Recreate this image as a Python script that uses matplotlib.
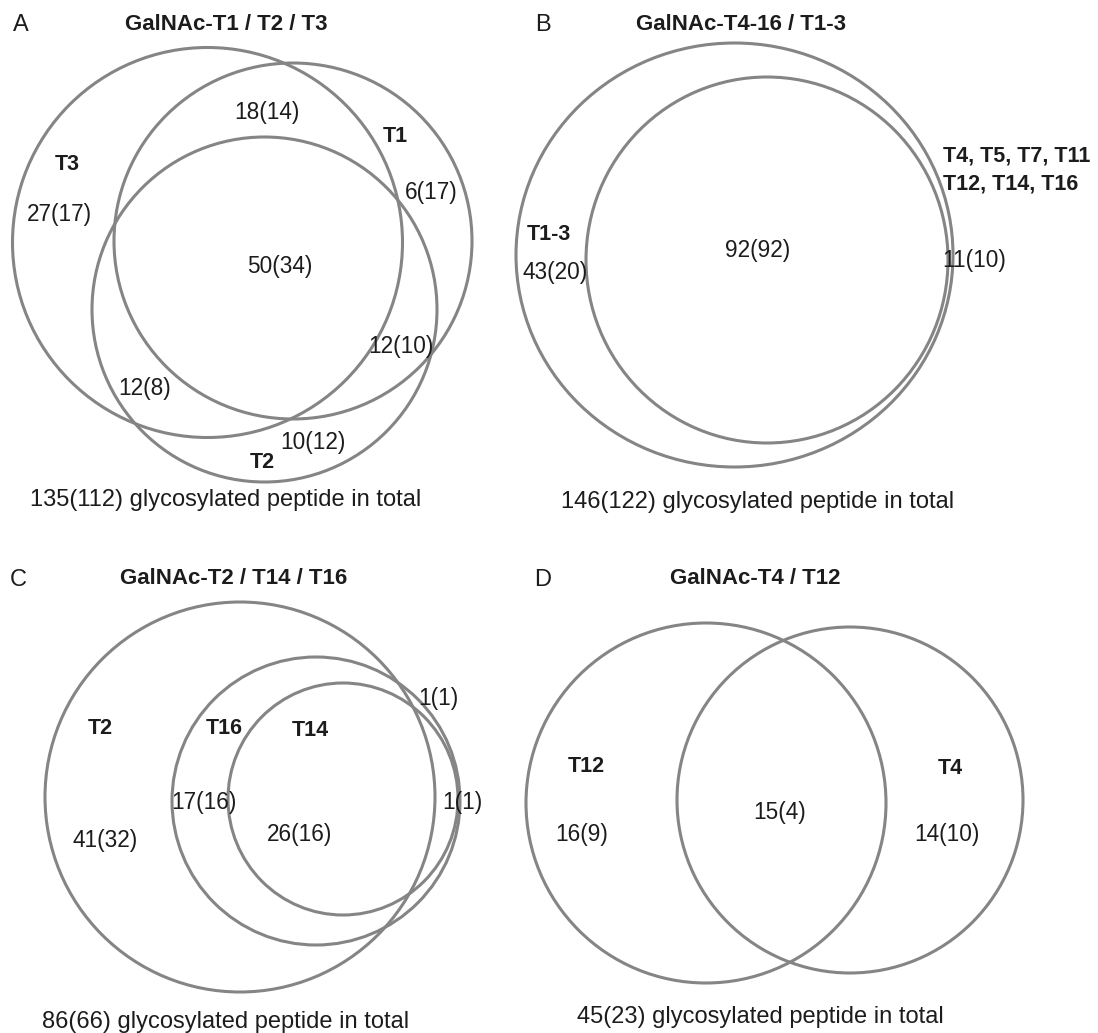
import matplotlib
matplotlib.use("Agg")
import matplotlib.pyplot as plt
from matplotlib.patches import Circle, Ellipse

plt.rcParams['font.family'] = ['Liberation Sans', 'DejaVu Sans']

# ---- data ----
panel_letters = ["A", "B", "C", "D"]
panel_titles = ["GalNAc-T1 / T2 / T3", "GalNAc-T4-16 / T1-3",
                "GalNAc-T2 / T14 / T16", "GalNAc-T4 / T12"]
totals = ["135(112)", "146(122)", "86(66)", "45(23)"]

# set names shown inside each diagram
set_names_A = ["T3", "T1", "T2"]
set_names_B = ["T1-3", "T4, T5, T7, T11\nT12, T14, T16"]
set_names_C = ["T2", "T16", "T14"]
set_names_D = ["T12", "T4"]

# region counts, "all (unique)"
counts_A = ["18(14)", "6(17)", "27(17)", "50(34)", "12(10)", "12(8)", "10(12)"]
counts_B = ["43(20)", "92(92)", "11(10)"]
counts_C = ["1(1)", "17(16)", "1(1)", "41(32)", "26(16)"]
counts_D = ["16(9)", "15(4)", "14(10)"]

# ---- layout (pixel coordinates) ----
letter_pos = [(21, 25), (543, 25), (18, 580), (543, 580)]
title_pos = [(226, 24), (741, 24), (234, 578), (755, 578)]
total_pos = [(226, 500), (758, 502), (226, 1022), (760, 1017)]

circles_A = [((207.5, 242.5), 195, 195), ((293, 241), 179, 178), ((264.5, 309.5), 172.5, 172.5)]
circles_B = [((734.5, 255), 218.5, 212), ((767, 260), 181, 183)]
circles_C = [((240, 797), 195, 195), ((316, 801), 144, 144), ((343, 799), 115, 116)]
circles_D = [((706, 803), 180, 180), ((850, 800), 173, 173)]

name_pos_A = [(67, 165), (395, 137), (262, 462)]
name_pos_B = [(549, 235), (943, 170)]
name_pos_C = [(100, 729), (224, 728), (310, 731)]
name_pos_D = [(586, 767), (950, 768)]

count_pos_A = [(267, 113), (431, 193), (59, 215), (280, 267), (401, 347), (145, 388), (313, 443)]
count_pos_B = [(555, 273), (758, 250), (974, 260)]
count_pos_C = [(438, 699), (204, 803), (462, 803), (105, 840), (300, 835)]
count_pos_D = [(582, 835), (780, 812), (947, 835)]

ring_color = "#858585"
text_color = "#1c1c1c"

fig = plt.figure(figsize=(10.98, 10.33), dpi=100)
ax = fig.add_axes([0, 0, 1, 1])
ax.set_xlim(0, 1098)
ax.set_ylim(1033, 0)
ax.set_aspect("equal")
ax.axis("off")

for circles in [circles_A, circles_B, circles_C, circles_D]:
    for (cx, cy), rx, ry in circles:
        ax.add_patch(Ellipse((cx, cy), 2 * rx, 2 * ry, fill=False,
                             edgecolor=ring_color, lw=2.2))

for letter, (x, y) in zip(panel_letters, letter_pos):
    ax.text(x, y, letter, fontsize=17, ha="center", va="center", color=text_color)
for title, (x, y) in zip(panel_titles, title_pos):
    ax.text(x, y, title, fontsize=16, fontweight="bold", ha="center", va="center", color=text_color)
for tot, (x, y) in zip(totals, total_pos):
    ax.text(x, y, tot + " glycosylated peptide in total", fontsize=17,
            ha="center", va="center", color=text_color)

names = [(set_names_A, name_pos_A), (set_names_B, name_pos_B),
         (set_names_C, name_pos_C), (set_names_D, name_pos_D)]
for labels, positions in names:
    for lab, (x, y) in zip(labels, positions):
        ha = "left" if "\n" in lab else "center"
        ax.text(x, y, lab, fontsize=15.5, fontweight="bold", ha=ha, va="center",
                color=text_color, linespacing=1.45)

counts = [(counts_A, count_pos_A), (counts_B, count_pos_B),
          (counts_C, count_pos_C), (counts_D, count_pos_D)]
for labels, positions in counts:
    for lab, (x, y) in zip(labels, positions):
        ax.text(x, y, lab, fontsize=16.3, ha="center", va="center", color=text_color)

fig.savefig("out.png", dpi=100)
